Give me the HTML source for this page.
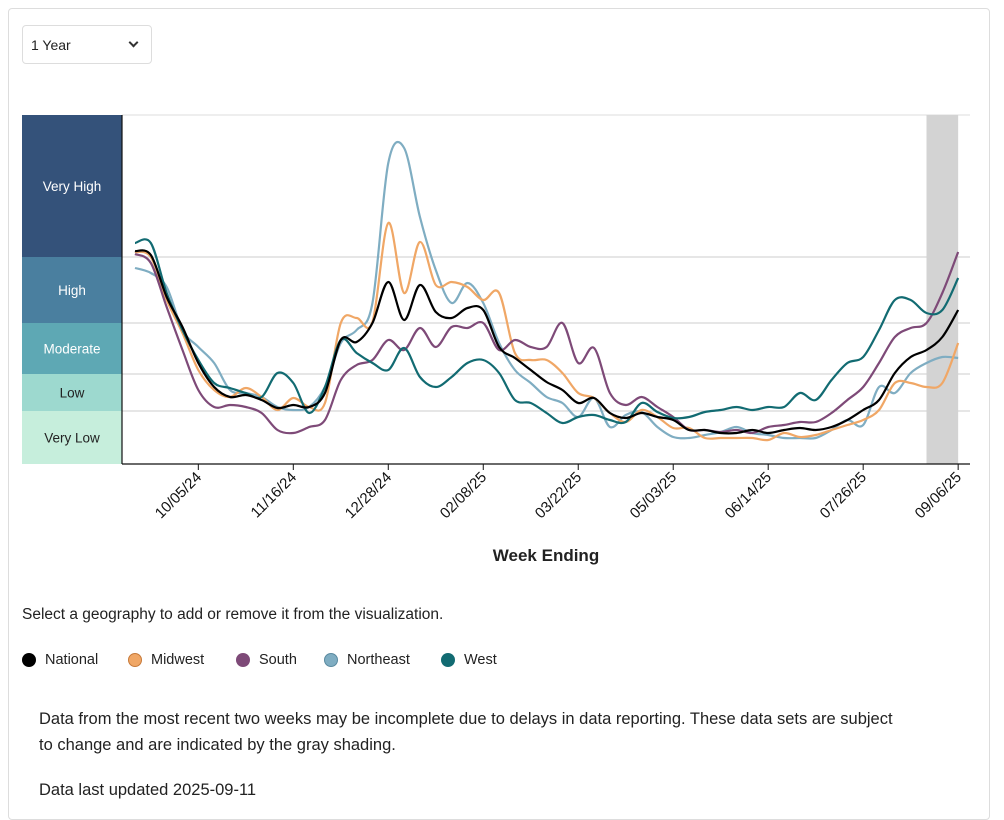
<!DOCTYPE html>
<html><head><meta charset="utf-8"><style>
body{margin:0;background:#fff;font-family:"Liberation Sans",sans-serif;color:#222;}
.frame{position:absolute;left:8px;top:8px;width:980px;height:810px;border:1px solid #ddd;border-radius:4px;}
.sel{position:absolute;left:22px;top:25px;width:128px;height:37px;border:1px solid #ddd;border-radius:4px;font-size:14px;}
.sel span{position:absolute;left:8px;top:11px;}
.sel i{position:absolute;right:14px;top:13px;width:5px;height:5px;border-right:2px solid #333;border-bottom:2px solid #333;transform:rotate(45deg);}
.t{position:absolute;font-size:15.5px;}
.leg{position:absolute;top:652px;font-size:14.5px;display:flex;align-items:center;}
.leg b{width:14px;height:14px;border-radius:50%;display:inline-block;margin-right:9px;box-sizing:border-box;}
</style></head><body>
<div class="frame"></div>
<div class="sel"><span>1 Year</span><i></i></div>
<svg id="chart" width="1004" height="580" style="position:absolute;left:0;top:0"></svg>
<div class="t" style="left:22px;top:606px">Select a geography to add or remove it from the visualization.</div>
<div class="leg" style="left:22px"><b style="background:#000"></b>National</div>
<div class="leg" style="left:128px"><b style="background:#f0a766;border:1px solid #c77a3a"></b>Midwest</div>
<div class="leg" style="left:236px"><b style="background:#7e4a78"></b>South</div>
<div class="leg" style="left:324px"><b style="background:#7fadc2;border:1px solid #5a8aa0"></b>Northeast</div>
<div class="leg" style="left:441px"><b style="background:#126b72"></b>West</div>
<div class="t" style="left:39px;top:706px;width:860px;line-height:26px;font-size:16.5px">Data from the most recent two weeks may be incomplete due to delays in data reporting. These data sets are subject to change and are indicated by the gray shading.</div>
<div class="t" style="left:39px;top:781px;font-size:16.5px">Data last updated 2025-09-11</div>
<script>
const tickLabels=["10/05/24","11/16/24","12/28/24","02/08/25","03/22/25","05/03/25","06/14/25","07/26/25","09/06/25"];
const tickWeeks=[4,10,16,22,28,34,40,46,52];
const levelNames=["Very Low","Low","Moderate","High","Very High"];
const levelBounds=[0,53,90,141,207,349];
const national=[213,209,167,137,101,77,67,69,64,56,59,57,71,124,122,141,182,144,179,152,146,156,154,117,106,94,82,74,61,66,51,46,51,47,44,34,34,31,31,34,31,34,36,34,37,44,54,64,91,107,114,127,154];
const midwest=[212,207,164,131,94,74,67,76,67,54,66,57,61,141,146,142,241,171,222,179,182,177,164,171,111,104,104,91,71,66,51,42,54,47,36,36,26,26,26,26,24,31,27,29,34,39,44,54,81,81,77,81,121];
const south=[210,201,157,114,74,57,59,57,51,34,31,37,44,84,99,104,124,114,136,117,137,136,141,114,124,117,117,141,101,116,71,59,67,57,47,34,34,32,34,31,37,39,42,42,51,64,77,101,127,136,141,171,212];
const northeast=[196,191,177,134,117,101,74,71,67,57,54,57,77,121,134,161,301,316,247,194,161,181,161,121,94,81,67,61,47,66,37,49,52,37,27,26,29,32,37,31,29,26,26,26,34,44,39,77,71,91,101,107,106];
const west=[221,221,171,134,104,81,76,71,67,91,81,51,77,124,111,101,94,116,87,77,87,101,104,91,64,61,51,41,47,49,44,42,61,52,46,47,52,54,57,54,57,57,71,64,84,101,107,134,164,164,151,154,186];
const NS="http://www.w3.org/2000/svg";
const svg=document.getElementById('chart');
const X0=135,DX=15.83,L=122,R=970,T=115,B=464;
const xs=i=>X0+DX*i;
const ys=v=>B-(v/349)*(B-T);
function el(tag,attrs,parent){const e=document.createElementNS(NS,tag);for(const k in attrs)e.setAttribute(k,attrs[k]);(parent||svg).appendChild(e);return e;}
const bandColors=["#c6eedc","#9dd9cf","#5ea8b4","#4a7f9f","#34527a"];
const bandText=["#222","#222","#fff","#fff","#fff"];
for(let k=0;k<5;k++){
 const y1=ys(levelBounds[k+1]),y0=ys(levelBounds[k]);
 const r=el('rect',{x:22,y:y1,width:100,height:y0-y1,fill:bandColors[k]});
 
 
 const t=el('text',{x:72,y:(y0+y1)/2+5,'text-anchor':'middle','font-size':13.5,fill:bandText[k]});
 t.textContent=levelNames[k];
 
 
 if(k>0){const g=el('line',{x1:122,x2:R,y1:y0,y2:y0,stroke:'#ccc'});
 
 }
}
el('line',{x1:122,x2:R,y1:T,y2:T,stroke:'#ddd'});
const sh=el('rect',{x:xs(50),y:T,width:xs(52)-xs(50),height:B-T,fill:'#d3d3d3'});


el('line',{x1:L,x2:L,y1:T,y2:B,stroke:'#111','stroke-width':1.2});
el('line',{x1:L,x2:R,y1:B,y2:B,stroke:'#111','stroke-width':1.2});
tickWeeks.forEach((w,j)=>{
 const x=xs(w);
 el('line',{x1:x,x2:x,y1:B,y2:B+6,stroke:'#111'});
 const t=el('text',{x:x+4,y:B+14,'text-anchor':'end','font-size':15,fill:'#111',transform:`rotate(-45 ${x+4} ${B+14})`});
 t.textContent=tickLabels[j];
 
 
});
const xt=el('text',{x:546,y:561,'text-anchor':'middle','font-size':17,'font-weight':'bold',fill:'#222'});
xt.textContent='Week Ending';


function path(arr){
 const p=arr.map((v,i)=>[xs(i),ys(v)]);
 let d=`M${p[0][0]},${p[0][1]}`;
 for(let i=0;i<p.length-1;i++){
  const p0=p[Math.max(i-1,0)],p1=p[i],p2=p[i+1],p3=p[Math.min(i+2,p.length-1)];
  d+=` C${p1[0]+(p2[0]-p0[0])/6},${p1[1]+(p2[1]-p0[1])/6} ${p2[0]-(p3[0]-p1[0])/6},${p2[1]-(p3[1]-p1[1])/6} ${p2[0]},${p2[1]}`;
 }
 return d;
}
const series=[["northeast",northeast,"#7fadc2"],["midwest",midwest,"#f0a766"],["south",south,"#7e4a78"],["west",west,"#126b72"],["national",national,"#000"]];
series.forEach(s=>{
 const p=el('path',{d:path(s[1]),fill:'none',stroke:s[2],'stroke-width':2.2});
 
 
});
</script>
</body></html>
